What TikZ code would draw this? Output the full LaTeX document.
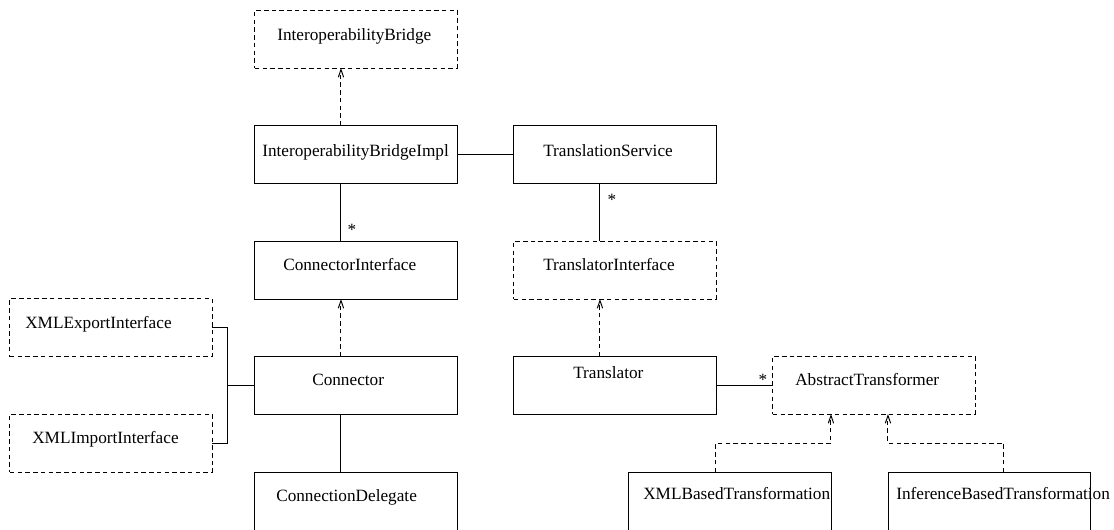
\documentclass[tikz,border=0pt]{standalone}
\usepackage{fontspec}
\setmainfont{Liberation Serif}
\usetikzlibrary{arrows.meta,calc}
\tikzset{
  cls/.style={draw,line width=0.7pt,minimum width=5.05cm,minimum height=1.45cm,inner sep=0pt,outer sep=0pt},
  iface/.style={cls,dash pattern=on 3.2pt off 2.3pt},
  lbl/.style={anchor=base west,inner sep=0pt,font=\fontsize{12.25}{14}\selectfont},
  mult/.style={anchor=base,inner sep=0pt,font=\fontsize{12.25}{14}\selectfont},
  dep/.style={line width=0.7pt,dash pattern=on 3.2pt off 2.3pt,-{Straight Barb[length=5.5pt,width=3.8pt]}},
  assoc/.style={line width=0.7pt}
}
\begin{document}
\begin{tikzpicture}[x=0.025cm,y=-0.025cm]
        \path[use as bounding box,clip] (0,0) rectangle (1114,529);
        % Boxes
        \node[iface] (ib) at (356,39) {};
        \node[cls] (ibi) at (356,154.5) {};
        \node[cls] (ts) at (615,154.5) {};
        \node[cls] (ci) at (356,270) {};
        \node[iface] (ti) at (615,270) {};
        \node[iface] (xe) at (111,327.5) {};
        \node[cls] (con) at (356,385.5) {};
        \node[cls] (tr) at (615,385) {};
        \node[iface] (at) at (874,385) {};
        \node[iface] (xi) at (111,443) {};
        \node[cls,minimum height=1.7cm] (cd) at (356,506) {};
        \node[cls,minimum height=1.7cm] (xb) at (730,506) {};
        \node[cls,minimum height=1.7cm] (inf) at (989.5,506) {};
        % Labels inside boxes
        \node[lbl] (ib-t) at (277,40) {InteroperabilityBridge};
        \node[lbl] (ibi-t) at (262,156) {InteroperabilityBridgeImpl};
        \node[lbl] (ts-t) at (543,156) {TranslationService};
        \node[lbl] (ci-t) at (283,270) {ConnectorInterface};
        \node[lbl] (ti-t) at (543,270) {TranslatorInterface};
        \node[lbl] (xe-t) at (25,328) {XMLExportInterface};
        \node[lbl] (con-t) at (312,385) {Connector};
        \node[lbl] (xi-t) at (32,443) {XMLImportInterface};
        \node[lbl] (cd-t) at (276,501) {ConnectionDelegate};
        \node[lbl] (tr-t) at (573,378) {Translator};
        \node[lbl] (at-t) at (795,385) {AbstractTransformer};
        \node[lbl] (xb-t) at (643,499) {XMLBasedTransformation};
        \node[lbl] (inf-t) at (896,499) {InferenceBasedTransformation};
        % Realisations
        \draw[dep] ($(ibi.north west)+(86,0)$) -- ($(ib.south west)+(86,0)$);
        \draw[dep] ($(con.north west)+(86,0)$) -- ($(ci.south west)+(86,0)$);
        \draw[dep] ($(tr.north west)+(86,0)$) -- ($(ti.south west)+(86,0)$);
        \draw[dep] ($(xb.north west)+(87,0)$) -- ++(0,-29) -| ($(at.south west)+(58,0)$);
        \draw[dep] ($(inf.north west)+(115,0)$) -- ++(0,-29) -| ($(at.south west)+(115,0)$);
        % Associations
        \draw[assoc] (ibi.east) -- (ts.west);
        \draw[assoc] ($(ibi.south west)+(86,0)$) -- ($(ci.north west)+(86,0)$);
        \draw[assoc] ($(ts.south west)+(86,0)$) -- ($(ti.north west)+(86,0)$);
        \draw[assoc] ($(con.south west)+(86,0)$) -- ($(cd.north west)+(86,0)$);
        \draw[assoc] (tr.east) -- (at.west);
        \coordinate (j) at ($(xe.east)+(15,0)$);
        \draw[assoc] (xe.east) -- (j) |- (xi.east);
        \draw[assoc] (con.west) -- (con.west -| j);
        % Multiplicities
        \node[mult] (m1) at (352,235) {*};
        \node[mult] (m2) at (612,205) {*};
        \node[mult] (m3) at (763,385.5) {*};
    \end{tikzpicture}
\end{document}
